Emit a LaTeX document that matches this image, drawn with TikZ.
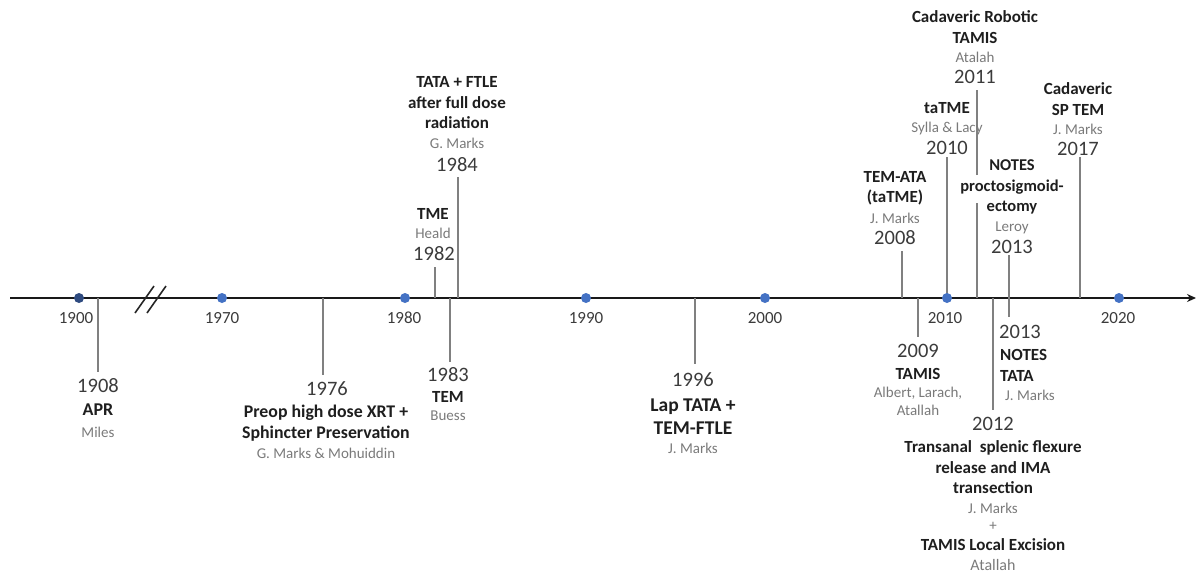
\documentclass[tikz,border=0pt]{standalone}
\usepackage{fontspec}
\setmainfont{Carlito}
\usetikzlibrary{arrows.meta}
\definecolor{dotblue}{HTML}{4472C4}
\definecolor{dotnavy}{HTML}{2F4B80}
\definecolor{tickgray}{HTML}{808080}
\definecolor{namegray}{HTML}{7A7A7A}
\definecolor{yeargray}{HTML}{3B3B3B}
\definecolor{ttlblack}{HTML}{1E1E1E}
\tikzset{
  axisline/.style={line width=2.2pt, draw=black!90, -{Stealth[length=9pt,width=8pt]}},
  tickline/.style={draw=tickgray, line width=1.2pt},
  breakmark/.style={draw=black!85, line width=1.6pt},
  dotmark/.style={circle, fill=dotblue, inner sep=0pt, minimum size=10pt},
  declabel/.style={font=\fontsize{17}{20}\selectfont, text=yeargray, inner sep=0pt},
  yearlabel/.style={font=\fontsize{20.5}{24}\selectfont, text=yeargray, inner sep=0pt},
  ttl/.style={font=\fontsize{17}{20.5}\selectfont\bfseries, text=ttlblack, inner sep=0pt, align=center},
  bigttl/.style={font=\fontsize{19.5}{23}\selectfont\bfseries, text=ttlblack, inner sep=0pt, align=center},
  nm/.style={font=\fontsize{15}{17.5}\selectfont, text=namegray, inner sep=0pt, align=center}
}
\begin{document}
\begin{tikzpicture}[x=1pt,y=-1pt]
\useasboundingbox (0,0) rectangle (1198,574);
% axis
\coordinate (axstart) at (10,298);
\coordinate (axend) at (1196,298);
\draw[axisline] (axstart) -- (axend);
% break marks
\coordinate (b1a) at (135,313); \coordinate (b1b) at (154,286);
\coordinate (b2a) at (147,313); \coordinate (b2b) at (166,286);
\draw[breakmark] (b1a) -- (b1b);
\draw[breakmark] (b2a) -- (b2b);

% ---------- ticks ----------
\coordinate (a1908) at (98,298); \coordinate (e1908) at (98,372);
\draw[tickline] (a1908) -- (e1908);
\coordinate (a1976) at (323,298); \coordinate (e1976) at (323,375);
\draw[tickline] (a1976) -- (e1976);
\coordinate (a1982) at (435,298); \coordinate (e1982) at (435,267);
\draw[tickline] (a1982) -- (e1982);
\coordinate (a1983) at (450,298); \coordinate (e1983) at (450,362);
\draw[tickline] (a1983) -- (e1983);
\coordinate (a1984) at (458,298); \coordinate (e1984) at (458,177);
\draw[tickline] (a1984) -- (e1984);
\coordinate (a1996) at (695,298); \coordinate (e1996) at (695,364);
\draw[tickline] (a1996) -- (e1996);
\coordinate (a2008) at (902,298); \coordinate (e2008) at (902,251);
\draw[tickline] (a2008) -- (e2008);
\coordinate (a2009) at (918,298); \coordinate (e2009) at (918,337);
\draw[tickline] (a2009) -- (e2009);
\coordinate (a2010) at (947,298); \coordinate (e2010) at (947,157);
\draw[tickline] (a2010) -- (e2010);
\coordinate (a2011) at (977,298); \coordinate (m2011) at (977,203);
\coordinate (n2011) at (977,175); \coordinate (e2011) at (977,90);
\draw[tickline] (a2011) -- (m2011);
\draw[tickline] (n2011) -- (e2011);
\coordinate (a2012) at (993,298); \coordinate (e2012) at (993,410);
\draw[tickline] (a2012) -- (e2012);
\coordinate (u2013) at (1009,255); \coordinate (d2013) at (1009,317);
\draw[tickline] (u2013) -- (d2013);
\coordinate (a2017) at (1080,298); \coordinate (e2017) at (1080,157);
\draw[tickline] (a2017) -- (e2017);

% ---------- decade dots ----------
\node[dotmark, fill=dotnavy] (d1900) at (79,298) {};
\node[dotmark] (d1970) at (222,298) {};
\node[dotmark] (d1980) at (405,298) {};
\node[dotmark] (d1990) at (586,298) {};
\node[dotmark] (d2000) at (765,298) {};
\node[dotmark] (d2010) at (947,298) {};
\node[dotmark] (d2020) at (1119,298) {};

\node[declabel] (l1900) at (76,318) {1900};
\node[declabel] (l1970) at (222,318) {1970};
\node[declabel] (l1980) at (404,318) {1980};
\node[declabel] (l1990) at (586,318) {1990};
\node[declabel] (l2000) at (765,318) {2000};
\node[declabel] (l2010) at (945,318) {2010};
\node[declabel] (l2020) at (1118,318) {2020};

% ---------- events ----------
\node[yearlabel] (y1908) at (98,386) {1908};
\node[ttl, font=\fontsize{18}{21}\selectfont\bfseries] (t1908) at (98,410) {APR};
\node[nm] (n1908) at (98,432) {Miles};

\node[yearlabel] (y1976) at (327,389) {1976};
\node[ttl, font=\fontsize{17.8}{21}\selectfont\bfseries] (t1976) at (326,423) {Preop high dose XRT +\\Sphincter Preservation};
\node[nm] (n1976) at (326,453) {G. Marks \& Mohuiddin};

\node[ttl] (t1982) at (433,214) {TME};
\node[nm] (n1982) at (433,233) {Heald};
\node[yearlabel] (y1982) at (434,254) {1982};

\node[yearlabel] (y1983) at (448,375) {1983};
\node[ttl] (t1983) at (448,397) {TEM};
\node[nm] (n1983) at (448,416) {Buess};

\node[ttl] (t1984) at (457,103) {TATA + FTLE\\after full dose\\radiation};
\node[nm] (n1984) at (457,143) {G. Marks};
\node[yearlabel] (y1984) at (457,165) {1984};

\node[yearlabel] (y1996) at (693,380) {1996};
\node[bigttl] (t1996) at (693,416.5) {Lap TATA +\\TEM-FTLE};
\node[nm] (n1996) at (693,448) {J. Marks};

\node[ttl] (t2008) at (895,188.5) {TEM-ATA\\(taTME)};
\node[nm] (n2008) at (895,218) {J. Marks};
\node[yearlabel] (y2008) at (895,238) {2008};

\node[yearlabel] (y2009) at (918,351) {2009};
\node[ttl] (t2009) at (918,374) {TAMIS};
\node[nm] (n2009) at (918,401.5) {Albert, Larach,\\Atallah};

\node[ttl] (t2010) at (947,108) {taTME};
\node[nm] (n2010) at (947,128) {Sylla \& Lacy};
\node[yearlabel] (y2010) at (947,148) {2010};

\node[ttl] (t2011) at (975,27) {Cadaveric Robotic\\TAMIS};
\node[nm] (n2011) at (975,57) {Atalah};
\node[yearlabel] (y2011) at (975,77) {2011};

\node[yearlabel] (y2012) at (993,424) {2012};
\node[ttl] (t2012) at (993,467.5) {Transanal\ \ splenic flexure\\release and IMA\\transection};
\node[nm] (n2012) at (993,517) {J. Marks\\+};
\node[ttl] (x2012) at (993,545) {TAMIS Local Excision};
\node[nm, font=\fontsize{16}{18}\selectfont] (m2012) at (993,565) {Atallah};

\node[ttl, font=\fontsize{16.5}{20.5}\selectfont\bfseries] (t2013u) at (1012,187) {NOTES\\proctosigmoid-\\ectomy};
\node[nm] (n2013u) at (1012,228) {Leroy};
\node[yearlabel] (y2013u) at (1012,247) {2013};

\node[yearlabel, anchor=west] (y2013d) at (999,332) {2013};
\node[ttl, anchor=west, align=left] (t2013d) at (1000,365.5) {NOTES\\TATA};
\node[nm, anchor=west] (n2013d) at (1005,395) {J. Marks};

\node[ttl] (t2017) at (1078,99) {Cadaveric\\SP TEM};
\node[nm] (n2017) at (1078,129) {J. Marks};
\node[yearlabel] (y2017) at (1078,149) {2017};
\end{tikzpicture}
\end{document}
